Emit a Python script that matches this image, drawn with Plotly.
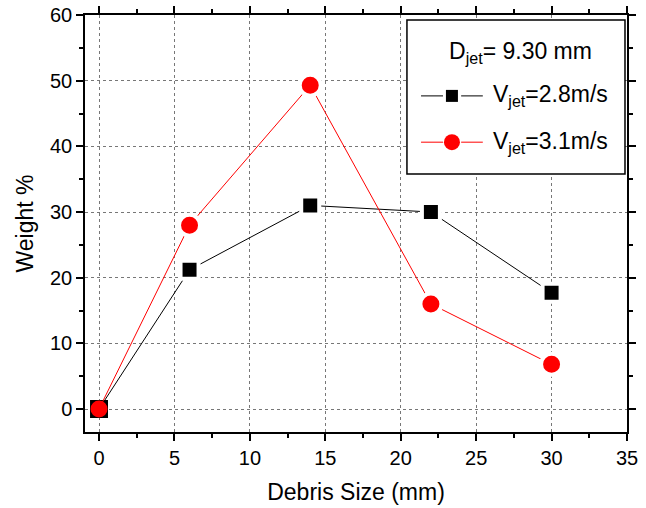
import plotly.graph_objects as go

debris_size = [0, 6, 14, 22, 30]
weight_28 = [0, 21.2, 31.0, 30.0, 17.7]
weight_31 = [0, 28.0, 49.3, 16.0, 6.8]
series_names = ["V<sub>jet</sub>=2.8m/s", "V<sub>jet</sub>=3.1m/s"]
legend_title = "D<sub>jet</sub>= 9.30 mm"

FONT = "Liberation Sans, Arial"

fig = go.Figure()
fig.add_trace(go.Scatter(
    x=debris_size, y=weight_28, mode="lines+markers", name=series_names[0],
    line=dict(color="black", width=1),
    marker=dict(symbol="square", size=18, color="black", opacity=1,
                line=dict(color="white", width=[0, 4, 4, 4, 4])),
))
fig.add_trace(go.Scatter(
    x=debris_size, y=weight_31, mode="lines+markers", name=series_names[1],
    line=dict(color="red", width=1),
    marker=dict(symbol="circle", size=[17, 21, 21, 21, 21], color="red", opacity=1,
                line=dict(color="white", width=[0, 4, 4, 4, 4])),
))

axis_common = dict(
    showline=True, linecolor="black", linewidth=1.5, mirror="allticks",
    ticks="outside", ticklen=7, tickwidth=1.5, tickcolor="black",
    showgrid=True, gridcolor="#777777", griddash="dot", gridwidth=1,
    zeroline=False, automargin=False, ticklabeloverflow="allow",
    tickfont=dict(family=FONT, size=20, color="black"),
    title_font=dict(family=FONT, size=23, color="black"),
)

fig.update_xaxes(
    range=[-0.93, 35], tick0=0, dtick=5,
    minor=dict(dtick=2.5, ticks="outside", ticklen=4, tickcolor="black", tickwidth=1.5, showgrid=False),
    title_text="Debris Size (mm)", title_standoff=16,
    **axis_common,
)
fig.update_yaxes(
    range=[-3.5, 60], tick0=0, dtick=10,
    minor=dict(dtick=5, ticks="outside", ticklen=4, tickcolor="black", tickwidth=1.5, showgrid=False),
    title_text="Weight %", title_standoff=10,
    **axis_common,
)

# manual legend box (paper coordinates)
shapes = [dict(type="rect", xref="paper", yref="paper", x0=0.594, x1=0.9963, y0=0.619, y1=0.988,
               line=dict(color="black", width=1.5), fillcolor="white", layer="above")]
annotations = [dict(text=legend_title, xref="paper", yref="paper", x=0.668, y=0.911,
                    xanchor="left", yanchor="middle", showarrow=False,
                    font=dict(family=FONT, size=23, color="black"))]
entry_y = [0.806, 0.695]
entry_colors = ["black", "red"]
entry_shapes = ["rect", "circle"]
entry_sizes = [12, 16]
for yv, col, shp, sz, nm in zip(entry_y, entry_colors, entry_shapes, entry_sizes, series_names):
    shapes.append(dict(type="line", xref="paper", yref="paper", x0=0.620, x1=0.6605, y0=yv, y1=yv,
                       line=dict(color=col, width=1), layer="above"))
    shapes.append(dict(type="line", xref="paper", yref="paper", x0=0.694, x1=0.734, y0=yv, y1=yv,
                       line=dict(color=col, width=1), layer="above"))
    shapes.append(dict(type=shp, xref="paper", yref="paper", xsizemode="pixel", ysizemode="pixel",
                       xanchor=0.677, yanchor=yv, x0=-sz / 2, x1=sz / 2, y0=-sz / 2, y1=sz / 2,
                       fillcolor=col, line=dict(color=col, width=0), layer="above"))
    annotations.append(dict(text=nm, xref="paper", yref="paper", x=0.749, y=yv,
                            xanchor="left", yanchor="middle", showarrow=False,
                            font=dict(family=FONT, size=23, color="black")))

fig.update_layout(
    width=646, height=508,
    margin=dict(l=85, r=19, t=15, b=76),
    plot_bgcolor="white", paper_bgcolor="white",
    font=dict(family=FONT, color="black"),
    showlegend=False,
    shapes=shapes, annotations=annotations,
)

fig.write_html("out.html", config={"displayModeBar": False},
               post_script="document.body.style.margin='0';")
